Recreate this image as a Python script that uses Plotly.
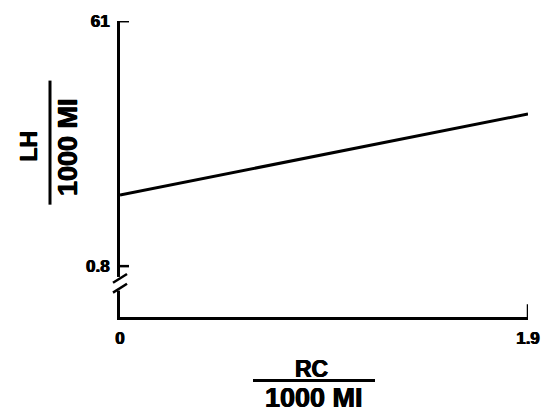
import plotly.graph_objects as go

# Data
x_vals = [0, 1.9]
y_vals = [18.3, 38.2]
x_ticks = [0, 1.9]
x_ticklabels = ["0", "1.9"]
y_ticks = [0.8, 61]
y_ticklabels = ["0.8", "61"]

W, H = 553, 420
L, R, T, B = 120, 25, 14, 103
PW, PH = W - L - R, H - T - B

def px(xp):
    return (xp - L) / PW

def py(yp):
    return (H - B - yp) / PH

FONT = "Liberation Sans, Arial, sans-serif"
HEAVY = "0.5px 0 0 black, -0.5px 0 0 black"

fig = go.Figure()
fig.add_trace(go.Scatter(x=x_vals, y=y_vals, mode="lines",
                         line=dict(color="black", width=3), showlegend=False,
                         hoverinfo="skip"))

fig.update_xaxes(range=[0, 1.9], showgrid=False, zeroline=False,
                 showline=True, linecolor="black", linewidth=3,
                 ticks="", tickvals=x_ticks,
                 ticktext=["<b>%s</b>" % t for t in x_ticklabels],
                 ticklabelstandoff=4,
                 tickfont=dict(family=FONT, size=17, color="black", shadow=HEAVY))
fig.update_yaxes(range=[-11.7, 61.05], showgrid=False, zeroline=False,
                 showline=True, linecolor="black", linewidth=3,
                 ticks="", tickvals=y_ticks,
                 ticktext=["<b>%s</b>" % t for t in y_ticklabels],
                 ticklabelstandoff=4,
                 tickfont=dict(family=FONT, size=17, color="black", shadow=HEAVY))

shapes = []
# inside tick marks
for yv in y_ticks:
    shapes.append(dict(type="line", xref="paper", yref="y",
                       x0=0, x1=px(129), y0=yv, y1=yv,
                       line=dict(color="black", width=2.5)))
shapes.append(dict(type="line", xref="x", yref="paper",
                   x0=x_ticks[-1], x1=x_ticks[-1], y0=0, y1=py(304),
                   line=dict(color="black", width=2.5)))
# axis break on y axis
shapes.append(dict(type="rect", xref="paper", yref="paper",
                   x0=px(115), x1=px(126), y0=py(290), y1=py(276),
                   fillcolor="white", line=dict(width=0), layer="above"))
shapes.append(dict(type="line", xref="paper", yref="paper",
                   x0=px(113), y0=py(282), x1=px(127), y1=py(273),
                   line=dict(color="black", width=2.5), layer="above"))
shapes.append(dict(type="line", xref="paper", yref="paper",
                   x0=px(113), y0=py(292), x1=px(127), y1=py(283),
                   line=dict(color="black", width=2.5), layer="above"))
# fraction bars
shapes.append(dict(type="line", xref="paper", yref="paper",
                   x0=px(50), x1=px(50), y0=py(75), y1=py(202),
                   line=dict(color="black", width=3)))
shapes.append(dict(type="line", xref="paper", yref="paper",
                   x0=px(253), x1=px(375), y0=py(382), y1=py(382),
                   line=dict(color="black", width=3)))

annotations = [
    dict(text="<b>LH</b>", xref="paper", yref="paper", x=px(29.5), y=py(142),
         textangle=-90, showarrow=False, xanchor="center", yanchor="middle",
         font=dict(family=FONT, size=23, color="black", shadow=HEAVY)),
    dict(text="<b>1000 MI</b>", xref="paper", yref="paper", x=px(68), y=py(143),
         textangle=-90, showarrow=False, xanchor="center", yanchor="middle",
         font=dict(family=FONT, size=27, color="black", shadow=HEAVY)),
    dict(text="<b>RC</b>", xref="paper", yref="paper", x=px(311), y=py(370),
         showarrow=False, xanchor="center", yanchor="middle",
         font=dict(family=FONT, size=23, color="black", shadow=HEAVY)),
    dict(text="<b>1000 MI</b>", xref="paper", yref="paper", x=px(314), y=py(400),
         showarrow=False, xanchor="center", yanchor="middle",
         font=dict(family=FONT, size=27, color="black", shadow=HEAVY)),
]

fig.update_layout(width=W, height=H, margin=dict(l=L, r=R, t=T, b=B),
                  paper_bgcolor="white", plot_bgcolor="white",
                  shapes=shapes, annotations=annotations, showlegend=False)

fig.write_html("out.html")
